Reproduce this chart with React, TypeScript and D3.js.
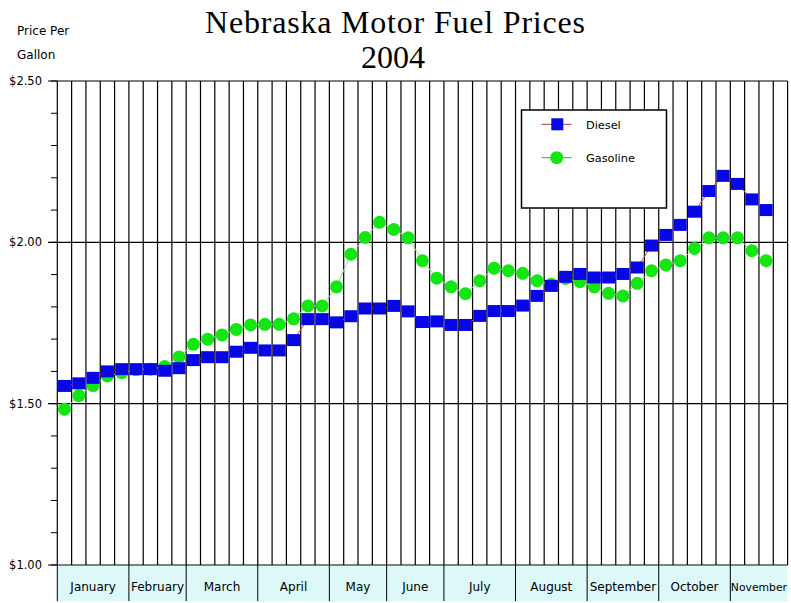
import React from "react";
import * as d3 from "d3";

// weekly average retail prices, Jan - Nov 2004
const monthNames = ["January", "February", "March", "April", "May", "June", "July", "August", "September", "October", "November"];
const monthWeeks = [5, 4, 5, 5, 4, 4, 5, 5, 5, 5, 4];

const dieselPrices = [
  1.555, 1.563, 1.58, 1.6, 1.607, 1.607, 1.607, 1.602, 1.61, 1.635,
  1.644, 1.644, 1.661, 1.673, 1.665, 1.665, 1.697, 1.762, 1.762, 1.752,
  1.771, 1.795, 1.795, 1.803, 1.786, 1.753, 1.755, 1.744, 1.744, 1.772,
  1.787, 1.787, 1.804, 1.834, 1.865, 1.893, 1.902, 1.891, 1.891, 1.902,
  1.922, 1.99, 2.023, 2.054, 2.095, 2.159, 2.206, 2.181, 2.133, 2.1,
];
const gasolinePrices = [
  1.483, 1.525, 1.556, 1.586, 1.596, 1.605, 1.607, 1.615, 1.645, 1.684,
  1.7, 1.713, 1.73, 1.744, 1.746, 1.746, 1.763, 1.803, 1.803, 1.862,
  1.963, 2.015, 2.062, 2.04, 2.014, 1.943, 1.889, 1.862, 1.841, 1.881,
  1.92, 1.912, 1.904, 1.881, 1.87, 1.888, 1.878, 1.862, 1.842, 1.834,
  1.873, 1.912, 1.93, 1.943, 1.981, 2.014, 2.014, 2.014, 1.974, 1.943,
];

const yTickValues = [1, 1.5, 2, 2.5];
const yTickLabels = ["$1.00", "$1.50", "$2.00", "$2.50"];

const W = 791;
const H = 603;
const left = 57.3;
const right = 787.6;
const top = 81;
const bottom = 565;

const BLUE = "#0606e6";
const GREEN = "#14e614";
const font = "'DejaVu Sans', sans-serif";

export default function App() {
  const nWeeks = d3.sum(monthWeeks);
  const x = d3.scaleBand<number>().domain(d3.range(nWeeks)).range([left, right]);
  const y = d3.scaleLinear().domain([1, 2.5]).range([bottom, top]);
  const cx = (i: number) => (x(i) as number) + x.bandwidth() / 2;

  const line = d3
    .line<number>()
    .x((_, i) => cx(i))
    .y((d) => y(d));

  const bounds = d3.range(nWeeks + 1).map((k) => left + k * x.bandwidth());
  const monthStart = d3.cumsum([0, ...monthWeeks]);
  const minorTicks = d3.range(1, 2.5001, 0.1);

  return (
    <svg
      width={W}
      height={H}
      style={{ position: "absolute", left: 0, top: 0, background: "#fff" }}
    >
      {/* title */}
      <text x={395} y={33} textAnchor="middle" fontFamily="'Liberation Serif', serif" fontSize={32} textLength={380}>
        Nebraska Motor Fuel Prices
      </text>
      <text x={393} y={68} textAnchor="middle" fontFamily="'Liberation Serif', serif" fontSize={32}>
        2004
      </text>
      <text x={17} y={35} fontFamily={font} fontSize={12}>Price Per</text>
      <text x={17} y={58.5} fontFamily={font} fontSize={12}>Gallon</text>

      {/* month band under the plot */}
      <rect x={left} y={566} width={right - left} height={35} fill="#dcf8f8" />
      {monthNames.map((m, j) => {
        const x0 = left + monthStart[j] * x.bandwidth();
        const x1 = left + monthStart[j + 1] * x.bandwidth();
        const last = j === monthNames.length - 1;
        return (
          <g key={m}>
            <line x1={x0} x2={x0} y1={565} y2={601} stroke="#000" />
            <text
              x={(x0 + x1) / 2}
              y={591}
              textAnchor="middle"
              fontFamily={font}
              fontSize={last ? 10.8 : 12}
            >
              {m}
            </text>
          </g>
        );
      })}

      {/* grid */}
      {bounds.map((bx, k) => (
        <line key={k} x1={bx} x2={bx} y1={top} y2={bottom} stroke="#000" strokeWidth={1.2} />
      ))}
      {yTickValues.map((v, j) => (
        <g key={v}>
          <line x1={48} x2={right} y1={y(v)} y2={y(v)} stroke="#000" strokeWidth={1.2} />
          <text x={42} y={y(v) + 4} textAnchor="end" fontFamily={font} fontSize={11.5}>
            {yTickLabels[j]}
          </text>
        </g>
      ))}
      {minorTicks.map((v) => (
        <line key={v} x1={51} x2={left} y1={y(v)} y2={y(v)} stroke="#000" />
      ))}

      {/* gasoline */}
      <path d={line(gasolinePrices) ?? ""} fill="none" stroke="#8fe08f" strokeWidth={1} />
      {gasolinePrices.map((v, i) => (
        <circle key={i} cx={cx(i)} cy={y(v)} r={6.5} fill={GREEN} />
      ))}

      {/* diesel */}
      <path d={line(dieselPrices) ?? ""} fill="none" stroke="#d04060" strokeWidth={1} />
      {dieselPrices.map((v, i) => (
        <rect key={i} x={cx(i) - 6.5} y={y(v) - 6} width={13} height={12} fill={BLUE} />
      ))}

      {/* legend */}
      <rect x={521.5} y={110} width={145} height={98} fill="#fff" stroke="#000" strokeWidth={1.5} />
      <line x1={541.5} x2={571.5} y1={124.3} y2={124.3} stroke="#c03050" />
      <rect x={551.3} y={118.3} width={12} height={12} fill={BLUE} />
      <text x={586} y={128.5} fontFamily={font} fontSize={11.3}>Diesel</text>
      <line x1={541.5} x2={571.5} y1={157.7} y2={157.7} stroke="#30b030" />
      <circle cx={556.7} cy={157.7} r={6.5} fill={GREEN} />
      <text x={586} y={162} fontFamily={font} fontSize={11.3}>Gasoline</text>
    </svg>
  );
}
